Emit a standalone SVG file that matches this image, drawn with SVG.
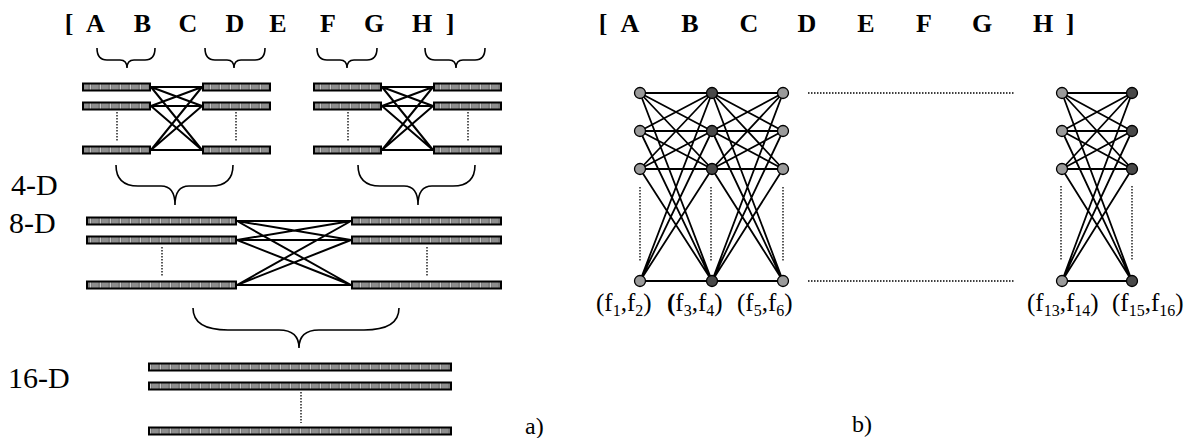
<svg xmlns="http://www.w3.org/2000/svg" width="1186" height="438" viewBox="0 0 1186 438">
<style>
.letter{font-family:"Liberation Serif","Times New Roman",serif;font-weight:bold;font-size:26px;fill:#000;text-anchor:middle}
.dim{font-family:"Liberation Serif","Times New Roman",serif;font-size:30px;fill:#000}
.lab{font-family:"Liberation Serif","Times New Roman",serif;font-size:25px;fill:#000}
.sub{font-size:16px}
.bar{fill:url(#cells);stroke:#000;stroke-width:2}
.brace{fill:none;stroke:#000;stroke-width:1.6}
.edge{fill:none;stroke:#000;stroke-width:2}
.gedge{fill:none;stroke:#000;stroke-width:1.8}
.dot{fill:none;stroke:#000;stroke-width:1.3;stroke-dasharray:1.5 1.5}
.nl{fill:#9a9a9a;stroke:#000;stroke-width:1.3}
.nd{fill:#484848;stroke:#000;stroke-width:1.3}
</style>
<defs>
<pattern id="cells" patternUnits="userSpaceOnUse" width="10" height="10">
<rect width="10" height="10" fill="#7e7e7e"/>
<rect x="2" y="0" width="6" height="10" fill="#8e8e8e"/>
<line x1="0.5" y1="0" x2="0.5" y2="10" stroke="#c8c8c8" stroke-width="1"/>
</pattern>
</defs>
<rect width="1186" height="438" fill="#fff"/>

<!-- Part a) -->
<g id="letters-a">
<text class="letter" x="69" y="32">[</text>
<text class="letter" x="95.5" y="32">A</text>
<text class="letter" x="142.5" y="32">B</text>
<text class="letter" x="188" y="32">C</text>
<text class="letter" x="235" y="32">D</text>
<text class="letter" x="278" y="32">E</text>
<text class="letter" x="328" y="32">F</text>
<text class="letter" x="374" y="32">G</text>
<text class="letter" x="422" y="32">H</text>
<text class="letter" x="450" y="32">]</text>
</g>

<g id="dim-labels">
<text class="dim" x="11" y="195">4-D</text>
<text class="dim" x="9" y="233">8-D</text>
<text class="dim" x="8" y="388">16-D</text>
<text class="lab" x="525" y="434" style="font-size:24px">a)</text>
</g>

<g id="braces">
<path class="brace" d="M97 48Q97 60 107 60L120 60Q127 60 127 68Q127 60 134 60L145 60Q155 60 155 48"/>
<path class="brace" d="M205 48Q205 60 215 60L227 60Q234 60 234 68Q234 60 241 60L255 60Q265 60 265 48"/>
<path class="brace" d="M317 48Q317 60 327 60L340 60Q347 60 347 68Q347 60 354 60L367 60Q377 60 377 48"/>
<path class="brace" d="M425 48Q425 60 435 60L449 60Q456 60 456 68Q456 60 463 60L475 60Q485 60 485 48"/>
<path class="brace" d="M116 165Q116 186 138 186L161 186Q175 186 175 205Q175 186 189 186L211 186Q233 186 233 165"/>
<path class="brace" d="M358 165Q358 186 380 186L404 186Q418 186 418 205Q418 186 432 186L453 186Q475 186 475 165"/>
<path class="brace" d="M193 308Q193 330 228 330L279 330Q299 330 299 348Q299 330 319 330L364 330Q399 330 399 308"/>
</g>

<g id="connectors-a">
<path class="edge" d="M151 87L202 87M151 87L202 106M151 87L202 150M151 106L202 87M151 106L202 106M151 106L202 150M151 150L202 87M151 150L202 106M151 150L202 150"/>
<path class="edge" d="M382 87L433 87M382 87L433 106M382 87L433 150M382 106L433 87M382 106L433 106M382 106L433 150M382 150L433 87M382 150L433 106M382 150L433 150"/>
<path class="edge" d="M237 221L351 221M237 221L351 240M237 221L351 285M237 240L351 221M237 240L351 240M237 240L351 285M237 285L351 221M237 285L351 240M237 285L351 285"/>
</g>

<g id="dots-a">
<line class="dot" x1="117" y1="112" x2="117" y2="142"/>
<line class="dot" x1="236" y1="112" x2="236" y2="142"/>
<line class="dot" x1="348" y1="112" x2="348" y2="142"/>
<line class="dot" x1="468" y1="112" x2="468" y2="142"/>
<line class="dot" x1="162" y1="247" x2="162" y2="277"/>
<line class="dot" x1="427" y1="247" x2="427" y2="277"/>
<line class="dot" x1="301" y1="392" x2="301" y2="423"/>
</g>

<g id="group-4d-1">
<rect class="bar" x="83" y="83.5" width="67" height="7"/>
<rect class="bar" x="83" y="102.5" width="67" height="7"/>
<rect class="bar" x="83" y="146.5" width="67" height="7"/>
<rect class="bar" x="203" y="83.5" width="67" height="7"/>
<rect class="bar" x="203" y="102.5" width="67" height="7"/>
<rect class="bar" x="203" y="146.5" width="67" height="7"/>
</g>
<g id="group-4d-2">
<rect class="bar" x="314" y="83.5" width="67" height="7"/>
<rect class="bar" x="314" y="102.5" width="67" height="7"/>
<rect class="bar" x="314" y="146.5" width="67" height="7"/>
<rect class="bar" x="434" y="83.5" width="67" height="7"/>
<rect class="bar" x="434" y="102.5" width="67" height="7"/>
<rect class="bar" x="434" y="146.5" width="67" height="7"/>
</g>
<g id="group-8d">
<rect class="bar" x="87" y="217.5" width="149" height="7"/>
<rect class="bar" x="87" y="236.5" width="149" height="7"/>
<rect class="bar" x="87" y="281.5" width="149" height="7"/>
<rect class="bar" x="352" y="217.5" width="149" height="7"/>
<rect class="bar" x="352" y="236.5" width="149" height="7"/>
<rect class="bar" x="352" y="281.5" width="149" height="7"/>
</g>
<g id="group-16d">
<rect class="bar" x="149" y="363.5" width="302" height="7"/>
<rect class="bar" x="149" y="382.5" width="302" height="7"/>
<rect class="bar" x="149" y="427.5" width="302" height="7"/>
</g>

<!-- Part b) -->
<g id="letters-b">
<text class="letter" x="603" y="32">[</text>
<text class="letter" x="630" y="32">A</text>
<text class="letter" x="690" y="32">B</text>
<text class="letter" x="749" y="32">C</text>
<text class="letter" x="807" y="32">D</text>
<text class="letter" x="866" y="32">E</text>
<text class="letter" x="924" y="32">F</text>
<text class="letter" x="982" y="32">G</text>
<text class="letter" x="1043" y="32">H</text>
<text class="letter" x="1070" y="32">]</text>
</g>

<g id="connectors-b">
<path class="gedge" d="M640 93L712 93M640 93L712 131M640 93L712 169M640 93L712 281M640 131L712 93M640 131L712 131M640 131L712 169M640 131L712 281M640 169L712 93M640 169L712 131M640 169L712 169M640 169L712 281M640 281L712 93M640 281L712 131M640 281L712 169M640 281L712 281"/>
<path class="gedge" d="M712 93L783 93M712 93L783 131M712 93L783 169M712 93L783 281M712 131L783 93M712 131L783 131M712 131L783 169M712 131L783 281M712 169L783 93M712 169L783 131M712 169L783 169M712 169L783 281M712 281L783 93M712 281L783 131M712 281L783 169M712 281L783 281"/>
<path class="gedge" d="M1062 93L1132 93M1062 93L1132 131M1062 93L1132 169M1062 93L1132 281M1062 131L1132 93M1062 131L1132 131M1062 131L1132 169M1062 131L1132 281M1062 169L1132 93M1062 169L1132 131M1062 169L1132 169M1062 169L1132 281M1062 281L1132 93M1062 281L1132 131M1062 281L1132 169M1062 281L1132 281"/>
</g>

<g id="dots-b">
<line class="dot" x1="640" y1="187" x2="640" y2="262"/>
<line class="dot" x1="711" y1="187" x2="711" y2="262"/>
<line class="dot" x1="783" y1="187" x2="783" y2="262"/>
<line class="dot" x1="1061" y1="186" x2="1061" y2="260"/>
<line class="dot" x1="1132" y1="186" x2="1132" y2="260"/>
<line class="dot" x1="808" y1="93" x2="1014" y2="93"/>
<line class="dot" x1="808" y1="281" x2="1014" y2="281"/>
</g>

<g id="layer-f1f2">
<circle class="nl" cx="640" cy="93" r="5.5"/>
<circle class="nl" cx="640" cy="131" r="5.5"/>
<circle class="nl" cx="640" cy="169" r="5.5"/>
<circle class="nl" cx="640" cy="281" r="5.5"/>
<text class="lab" x="596" y="311">(f<tspan class="sub" dy="5">1</tspan><tspan dy="-5">,f</tspan><tspan class="sub" dy="5">2</tspan><tspan dy="-5">)</tspan></text>
</g>
<g id="layer-f3f4">
<circle class="nd" cx="712" cy="93" r="5.5"/>
<circle class="nd" cx="712" cy="131" r="5.5"/>
<circle class="nd" cx="712" cy="169" r="5.5"/>
<circle class="nd" cx="712" cy="281" r="5.5"/>
<text class="lab" x="667" y="311"><tspan font-weight="bold">(</tspan>f<tspan class="sub" dy="5">3</tspan><tspan dy="-5">,f</tspan><tspan class="sub" dy="5">4</tspan><tspan dy="-5">)</tspan></text>
</g>
<g id="layer-f5f6">
<circle class="nl" cx="783" cy="93" r="5.5"/>
<circle class="nl" cx="783" cy="131" r="5.5"/>
<circle class="nl" cx="783" cy="169" r="5.5"/>
<circle class="nl" cx="783" cy="281" r="5.5"/>
<text class="lab" x="737" y="311">(f<tspan class="sub" dy="5">5</tspan><tspan dy="-5">,f</tspan><tspan class="sub" dy="5">6</tspan><tspan dy="-5">)</tspan></text>
</g>
<g id="layer-f13f14">
<circle class="nl" cx="1062" cy="93" r="5.5"/>
<circle class="nl" cx="1062" cy="131" r="5.5"/>
<circle class="nl" cx="1062" cy="169" r="5.5"/>
<circle class="nl" cx="1062" cy="281" r="5.5"/>
<text class="lab" x="1027" y="311">(f<tspan class="sub" dy="5">13</tspan><tspan dy="-5">,f</tspan><tspan class="sub" dy="5">14</tspan><tspan dy="-5">)</tspan></text>
</g>
<g id="layer-f15f16">
<circle class="nd" cx="1132" cy="93" r="5.5"/>
<circle class="nd" cx="1132" cy="131" r="5.5"/>
<circle class="nd" cx="1132" cy="169" r="5.5"/>
<circle class="nd" cx="1132" cy="281" r="5.5"/>
<text class="lab" x="1112" y="311">(f<tspan class="sub" dy="5">15</tspan><tspan dy="-5">,f</tspan><tspan class="sub" dy="5">16</tspan><tspan dy="-5">)</tspan></text>
</g>

<text class="lab" x="852" y="432" style="font-size:24px">b)</text>
</svg>
